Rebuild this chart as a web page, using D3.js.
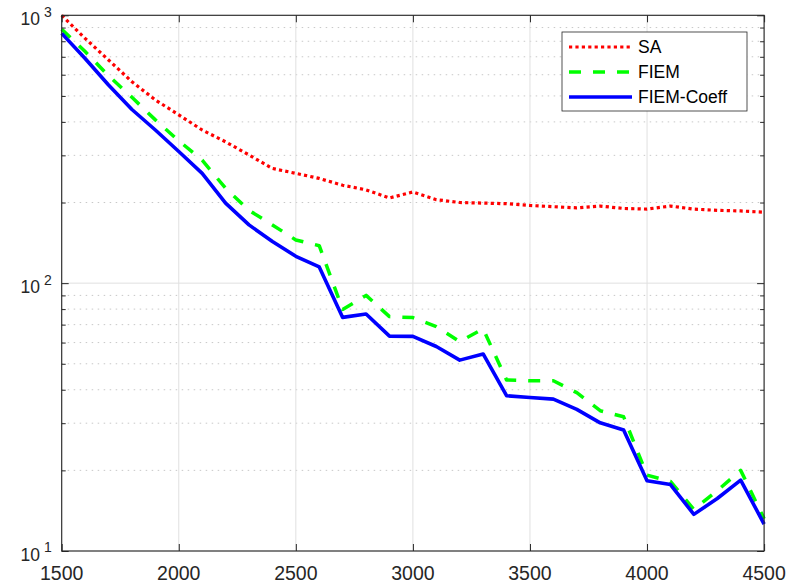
<!DOCTYPE html>
<html>
<head>
<meta charset="utf-8">
<script src="https://cdn.jsdelivr.net/npm/d3@7"></script>
<style>
  html, body { margin: 0; padding: 0; background: #fff; }
  svg { display: block; font-family: "Liberation Sans", Arial, Helvetica, sans-serif; }
</style>
</head>
<body>
<svg id="chart" width="795" height="585"></svg>
<script>
// Sample sizes on the horizontal axis
const sizes = [1500, 1600, 1700, 1800, 1900, 2000, 2100, 2200, 2300, 2400, 2500,
               2600, 2700, 2800, 2900, 3000, 3100, 3200, 3300, 3400, 3500,
               3600, 3700, 3800, 3900, 4000, 4100, 4200, 4300, 4400, 4500];

// Error per method
const saValues = [1000, 820, 681, 565, 483, 425, 373, 337, 301, 268, 257,
                  246, 232, 223, 208, 219, 205, 200, 199, 198, 195,
                  193, 191, 194, 190, 189, 194, 189, 187, 186, 184];
const fiemValues = [887, 732, 595, 494, 407, 340, 288, 226, 187, 165, 145,
                    138, 79.8, 90, 75, 74.4, 68.8, 60.5, 67.5, 43.5, 43.2,
                    43.2, 39, 33.4, 31.7, 19.2, 18.2, 14.3, 16.8, 20, 13.2];
const coeffValues = [856, 690, 549, 445, 373, 310, 257, 199, 165, 143, 126,
                     115, 74.5, 76.7, 63.4, 63.3, 58, 51.6, 54.4, 38, 37.4,
                     36.9, 33.8, 30.1, 28.3, 18.3, 17.7, 13.7, 15.7, 18.4, 12.6];

const seriesNames = ["SA", "FIEM", "FIEM-Coeff"];
const xTickValues = [1500, 2000, 2500, 3000, 3500, 4000, 4500];
const yDecades = [1, 2, 3];

const series = [
  { name: seriesNames[0], values: saValues, color: "#ff0000", width: 3.2, dash: "3.2,3.2" },
  { name: seriesNames[1], values: fiemValues, color: "#00ff00", width: 3.5, dash: "12,12" },
  { name: seriesNames[2], values: coeffValues, color: "#0000ff", width: 3.6, dash: null }
];

const svg = d3.select("#chart");
const margin = { left: 61.7, top: 15.3, right: 795 - 764.1, bottom: 585 - 551 };
const W = 795 - margin.left - margin.right;
const H = 585 - margin.top - margin.bottom;

const x = d3.scaleLinear().domain([1500, 4500]).range([0, W]);
const y = d3.scaleLog().domain([10, 1000]).range([H, 0]);

const g = svg.append("g").attr("transform", `translate(${margin.left},${margin.top})`);

const axisColor = "#262626";

// Minor tick values within each decade
const minorVals = [];
for (const d of [1, 2]) {
  for (let k = 2; k <= 9; k++) minorVals.push(k * Math.pow(10, d));
}
const majorYVals = yDecades.map(d => Math.pow(10, d));

// Dotted minor grid
g.append("g").selectAll("line").data(minorVals).join("line")
  .attr("x1", 0).attr("x2", W)
  .attr("y1", d => y(d)).attr("y2", d => y(d))
  .attr("stroke", "#c8c8c8").attr("stroke-width", 1)
  .attr("stroke-dasharray", "1.5,4.5");

// Solid major grid
g.append("g").selectAll("line").data(xTickValues).join("line")
  .attr("x1", d => x(d)).attr("x2", d => x(d))
  .attr("y1", 0).attr("y2", H)
  .attr("stroke", "#e0e0e0").attr("stroke-width", 1);
g.append("g").selectAll("line").data(majorYVals).join("line")
  .attr("x1", 0).attr("x2", W)
  .attr("y1", d => y(d)).attr("y2", d => y(d))
  .attr("stroke", "#e0e0e0").attr("stroke-width", 1);

// Data lines
const line = d3.line()
  .x((d, i) => x(sizes[i]))
  .y(d => y(d));

series.forEach(s => {
  g.append("path")
    .datum(s.values)
    .attr("d", line)
    .attr("fill", "none")
    .attr("stroke", s.color)
    .attr("stroke-width", s.width)
    .attr("stroke-linejoin", "round")
    .attr("stroke-dasharray", s.dash);
});

// Axes with inward ticks on all four sides
const bottomAxis = d3.axisBottom(x).tickValues(xTickValues).tickSize(-7).tickFormat("").tickSizeOuter(0);
const topAxis = d3.axisTop(x).tickValues(xTickValues).tickSize(-7).tickFormat("").tickSizeOuter(0);
const leftMajor = d3.axisLeft(y).tickValues(majorYVals).tickSize(-7).tickFormat("").tickSizeOuter(0);
const rightMajor = d3.axisRight(y).tickValues(majorYVals).tickSize(-7).tickFormat("").tickSizeOuter(0);
const leftMinor = d3.axisLeft(y).tickValues(minorVals).tickSize(-4).tickFormat("").tickSizeOuter(0);
const rightMinor = d3.axisRight(y).tickValues(minorVals).tickSize(-4).tickFormat("").tickSizeOuter(0);

function styleAxis(sel) {
  sel.selectAll("path, line").attr("stroke", axisColor).attr("stroke-width", 1);
  sel.select(".domain").remove();
}
g.append("g").attr("transform", `translate(0,${H})`).call(bottomAxis).call(styleAxis);
g.append("g").call(topAxis).call(styleAxis);
g.append("g").call(leftMajor).call(styleAxis);
g.append("g").call(leftMinor).call(styleAxis);
g.append("g").attr("transform", `translate(${W},0)`).call(rightMajor).call(styleAxis);
g.append("g").attr("transform", `translate(${W},0)`).call(rightMinor).call(styleAxis);

// Box
g.append("rect")
  .attr("x", 0).attr("y", 0).attr("width", W).attr("height", H)
  .attr("fill", "none").attr("stroke", axisColor).attr("stroke-width", 1.1);

// X tick labels
g.append("g").selectAll("text").data(xTickValues).join("text")
  .attr("x", d => x(d)).attr("y", H + 29)
  .attr("text-anchor", "middle")
  .attr("font-size", 19.5)
  .attr("fill", axisColor)
  .text(d => d);

// Y tick labels as powers of ten
const yLab = g.append("g").selectAll("text").data(yDecades).join("text")
  .attr("x", -10).attr("y", d => y(Math.pow(10, d)) + 10)
  .attr("text-anchor", "end")
  .attr("fill", axisColor);
yLab.append("tspan").attr("font-size", 17.5).text("10");
yLab.append("tspan").attr("font-size", 14).attr("dx", 4).attr("dy", -8.5).text(d => d);

// Legend
const legend = svg.append("g").attr("transform", "translate(562,32)");
legend.append("rect")
  .attr("width", 185).attr("height", 79)
  .attr("fill", "#fff").attr("stroke", "#262626").attr("stroke-width", 0.8);
series.forEach((s, i) => {
  const cy = 15 + i * 25;
  legend.append("line")
    .attr("x1", 7).attr("x2", 70).attr("y1", cy).attr("y2", cy)
    .attr("stroke", s.color).attr("stroke-width", s.width)
    .attr("stroke-dasharray", s.dash);
  legend.append("text")
    .attr("x", 76).attr("y", cy + 6)
    .attr("font-size", 17.5)
    .attr("fill", "#000")
    .text(s.name);
});
</script>
</body>
</html>
